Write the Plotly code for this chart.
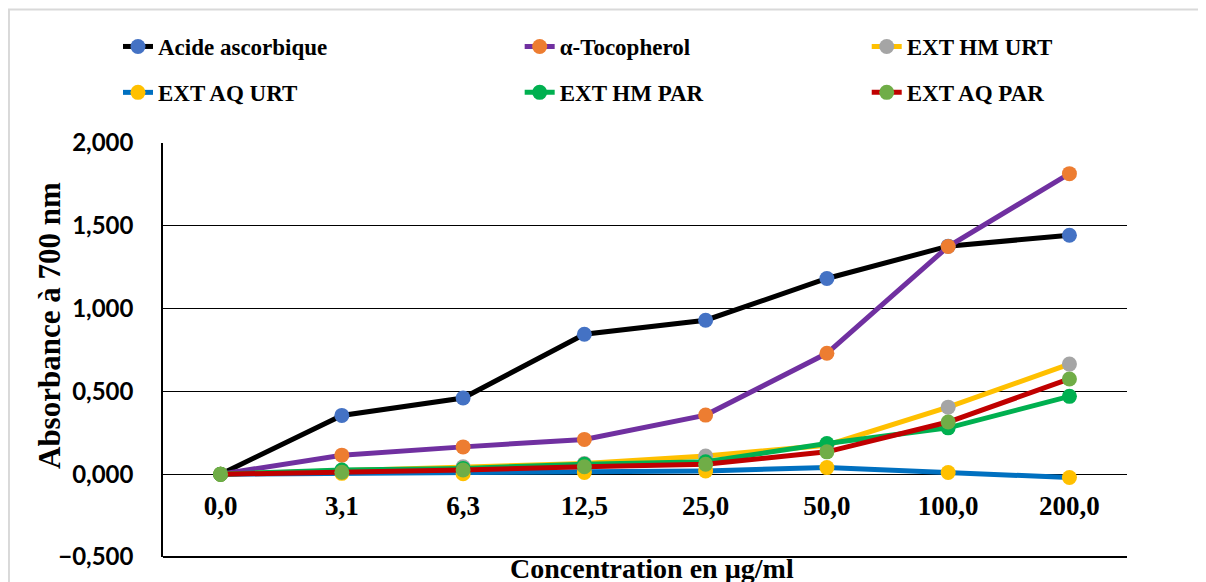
import plotly.graph_objects as go

categories = ["0,0", "3,1", "6,3", "12,5", "25,0", "50,0", "100,0", "200,0"]

acide_ascorbique = [0.000, 0.355, 0.460, 0.845, 0.930, 1.182, 1.377, 1.443]
alpha_tocopherol = [0.000, 0.115, 0.165, 0.210, 0.357, 0.730, 1.375, 1.815]
ext_hm_urt = [0.000, 0.020, 0.045, 0.065, 0.110, 0.175, 0.405, 0.665]
ext_aq_urt = [0.000, 0.005, 0.003, 0.010, 0.020, 0.040, 0.010, -0.020]
ext_hm_par = [0.000, 0.025, 0.035, 0.060, 0.075, 0.185, 0.280, 0.470]
ext_aq_par = [0.000, 0.012, 0.025, 0.045, 0.060, 0.135, 0.315, 0.575]

series = [
    ("Acide ascorbique", acide_ascorbique, "#000000", "#4472C4", "legend"),
    ("\u03b1-Tocopherol", alpha_tocopherol, "#7030A0", "#ED7D31", "legend2"),
    ("EXT HM URT", ext_hm_urt, "#FFC000", "#A5A5A5", "legend3"),
    ("EXT AQ URT", ext_aq_urt, "#0070C0", "#FFC000", "legend"),
    ("EXT HM PAR", ext_hm_par, "#00B050", "#00B050", "legend2"),
    ("EXT AQ PAR", ext_aq_par, "#C00000", "#70AD47", "legend3"),
]

SERIF = "Liberation Serif"
SANS = "Lato"

fig = go.Figure()
for i, (name, vals, lc, mc, lg) in enumerate(series):
    fig.add_trace(go.Scatter(
        x=categories, y=vals, name=name, mode="lines+markers",
        line=dict(color=lc, width=5),
        marker=dict(color=mc, size=15),
        legend=lg, legendgroup=f"g{i}",
    ))

legend_common = dict(
    font=dict(family=SERIF, size=23, color="black", weight="bold"),
    bgcolor="rgba(0,0,0,0)", traceorder="grouped", tracegroupgap=13,
    xanchor="left", yanchor="top", y=1.285, orientation="v",
)

fig.update_layout(
    width=1206, height=582,
    margin=dict(l=155, r=87, t=135, b=33),
    paper_bgcolor="white", plot_bgcolor="white",
    separators=",.",
    legend=dict(x=-0.0467, **legend_common),
    legend2=dict(x=0.370, **legend_common),
    legend3=dict(x=0.730, **legend_common),
    xaxis=dict(
        type="category", anchor="free", position=0.2,
        showline=False, showgrid=False, ticks="", zeroline=False,
        tickfont=dict(family=SERIF, size=27, color="black", weight="bold"),
        ticklabelstandoff=13,
    ),
    yaxis=dict(
        range=[-0.5, 2.0], dtick=0.5, tick0=0, tickformat=".3f",
        showline=True, linecolor="black", linewidth=1.5,
        showgrid=True, gridcolor="black", gridwidth=1.3,
        zeroline=False, ticks="",
        tickfont=dict(family=SANS, size=24, color="black", weight="bold"),
        ticklabelstandoff=23,
    ),
    shapes=[
        dict(type="line", xref="paper", yref="paper", x0=0, x1=1, y0=0, y1=0,
             line=dict(color="black", width=2)),
        dict(type="rect", xref="paper", yref="paper",
             x0=-0.1598, x1=1.1, y0=-0.1, y1=1.3225,
             line=dict(color="#D9D9D9", width=2), layer="below"),
    ],
    annotations=[
        dict(text="Absorbance à 700 nm", xref="paper", yref="paper",
             x=-0.1172, y=0.558, textangle=-90, showarrow=False,
             xanchor="center", yanchor="middle",
             font=dict(family=SERIF, size=31, color="black", weight="bold")),
        dict(text="Concentration en µg/ml", xref="paper", yref="paper",
             x=0.507, y=-0.027, showarrow=False, xanchor="center",
             yanchor="middle",
             font=dict(family=SERIF, size=28, color="black", weight="bold")),
    ],
    showlegend=True,
)

fig.write_html("out.html")
